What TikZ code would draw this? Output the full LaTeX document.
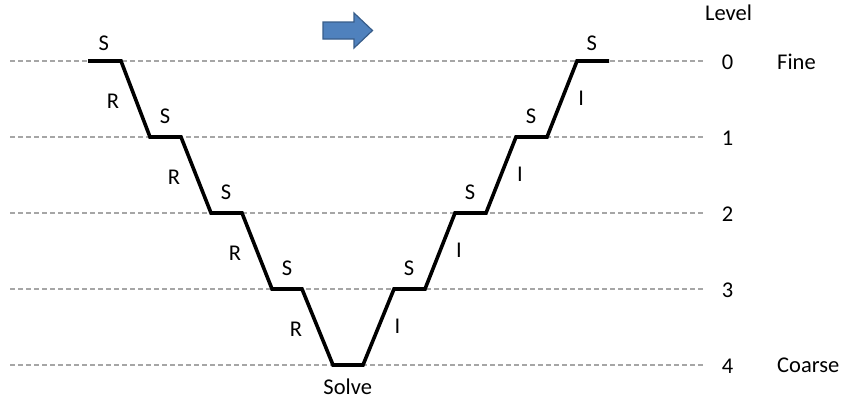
\documentclass[tikz,border=0pt]{standalone}
\usepackage{fontspec}
\setmainfont{Carlito}
\definecolor{arrfill}{HTML}{4F81BD}
\definecolor{arrdraw}{HTML}{385D8A}
\begin{document}
\begin{tikzpicture}[x=1pt,y=-1pt,
  lbl/.style={inner sep=0pt,font=\fontsize{22.5}{26}\selectfont},
  lvl/.style={draw=gray!70,dash pattern=on 5pt off 3pt,line width=1.1pt},
  vpath/.style={line width=3.6pt,line join=miter,line cap=butt}]
\useasboundingbox (0,0) rectangle (846,399);
% level lines
\foreach \i/\y in {0/61,1/137,2/213,3/289,4/365}{
  \coordinate (L\i a) at (10,\y);
  \coordinate (L\i b) at (705,\y);
  \draw[lvl] (L\i a) -- (L\i b);
  \node[lbl] (n\i) at (727.5,\y+1) {\i};
}
\node[lbl] (level) at (728.5,12.5) {Level};
\node[lbl,anchor=west] (fine) at (777,61.5) {Fine};
\node[lbl,anchor=west] (coarse) at (777,365.5) {Coarse};
% V path
\coordinate (p0) at (88,61);
\draw[vpath] (p0) -- (121,61) -- (150,137) -- (181,137) -- (211,213) -- (242,213)
  -- (272,289) -- (302,289) -- (333,365) -- (363,365) -- (394,289) -- (425,289)
  -- (455,213) -- (486,213) -- (516,137) -- (547,137) -- (577,61) -- (609,61);
% labels
\node[lbl] (s0) at (103.7,43.5) {S};
\node[lbl] (r1) at (113,101.7) {R};
\node[lbl] (s1) at (165,116.5) {S};
\node[lbl] (r2) at (174,177.7) {R};
\node[lbl] (s2) at (226,192.5) {S};
\node[lbl] (r3) at (235,253.7) {R};
\node[lbl] (s3) at (287,268.5) {S};
\node[lbl] (r4) at (296,329.7) {R};
\node[lbl] (solve) at (347.7,386.5) {Solve};
\node[lbl] (i4) at (397.5,326) {I};
\node[lbl] (s3r) at (409,268.5) {S};
\node[lbl] (i3) at (459,250) {I};
\node[lbl] (s2r) at (470,192.5) {S};
\node[lbl] (i2) at (520,174) {I};
\node[lbl] (s1r) at (531,116.5) {S};
\node[lbl] (i1) at (581.3,98) {I};
\node[lbl] (s0r) at (591.7,43.7) {S};
% blue arrow
\draw[arrdraw,fill=arrfill,line width=1.2pt,line join=miter]
  (323,22) -- (354,22) -- (354,13) -- (372.5,30.5) -- (354,48) -- (354,39) -- (323,39) -- cycle;
\end{tikzpicture}
\end{document}
